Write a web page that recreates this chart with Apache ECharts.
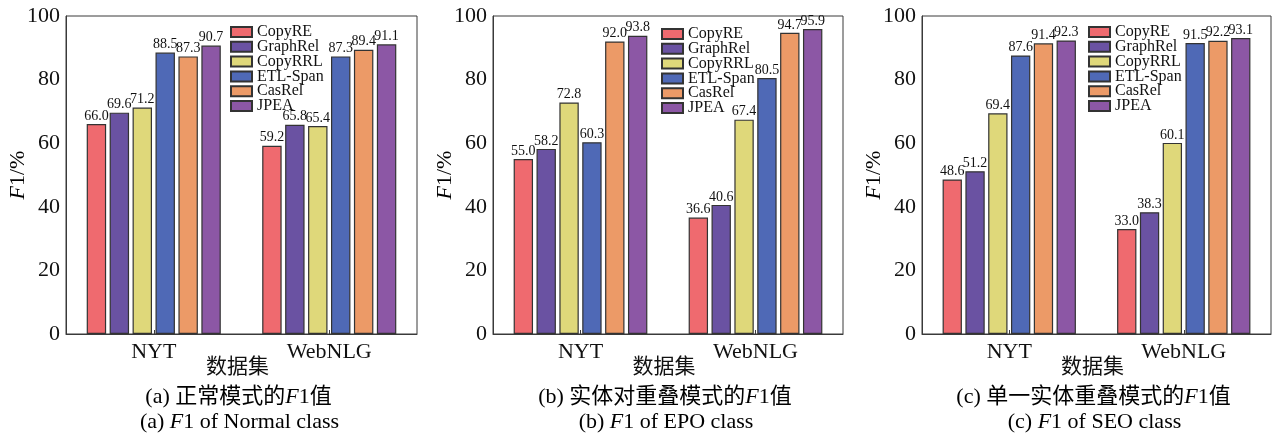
<!DOCTYPE html>
<html>
<head>
<meta charset="utf-8">
<script src="https://cdn.jsdelivr.net/npm/echarts@6/dist/echarts.min.js"></script>
<style>
  html, body { margin: 0; padding: 0; background: #fff; }
  #chart { width: 1273px; height: 437px; }
</style>
</head>
<body>
<div id="chart"></div>
<script>
// Datasets on the x axis
const datasets = ['NYT', 'WebNLG'];
// Models compared in each panel
const models = ['CopyRE', 'GraphRel', 'CopyRRL', 'ETL-Span', 'CasRel', 'JPEA'];
const colors = ['#ef6a6f', '#6a52a2', '#dfd87a', '#4f69b6', '#ec9a67', '#8c57a5'];

// F1 per model: one [NYT, WebNLG] pair for each panel (Normal, EPO, SEO)
const copyRE   = [[66.0, 59.2], [55.0, 36.6], [48.6, 33.0]];
const graphRel = [[69.6, 65.8], [58.2, 40.6], [51.2, 38.3]];
const copyRRL  = [[71.2, 65.4], [72.8, 67.4], [69.4, 60.1]];
const etlSpan  = [[88.5, 87.3], [60.3, 80.5], [87.6, 91.5]];
const casRel   = [[87.3, 89.4], [92.0, 94.7], [91.4, 92.2]];
const jpea     = [[90.7, 91.1], [93.8, 95.9], [92.3, 93.1]];
const modelValues = [copyRE, graphRel, copyRRL, etlSpan, casRel, jpea];

// Y axis ticks
const yTicks = [0, 20, 40, 60, 80, 100];

// Panel captions
const captionsZh = ['正常模式的', '实体对重叠模式的', '单一实体重叠模式的'];
const captionsEn = ['Normal', 'EPO', 'SEO'];
const panelTags = ['(a)', '(b)', '(c)'];

const FONT = '"Liberation Serif", "Times New Roman", "Noto Sans CJK SC", serif';
const INK = '#111';

// Plot areas of the three panels
const grids = [
  { left: 66,  top: 16, width: 351, height: 318 },
  { left: 493, top: 16, width: 350, height: 318 },
  { left: 922, top: 16, width: 349, height: 318 }
];
const legendPos = [
  { left: 230, top: 24 },
  { left: 661, top: 26 },
  { left: 1088, top: 24 }
];

const option = {
  animation: false,
  backgroundColor: '#fff',
  grid: grids.map(g => Object.assign({
    show: true, borderColor: '#3a3a3a', borderWidth: 1, backgroundColor: 'transparent'
  }, g)),
  legend: legendPos.map(p => ({
    orient: 'vertical',
    left: p.left,
    top: p.top,
    padding: 0,
    itemWidth: 21,
    itemHeight: 10,
    itemGap: -1.2,
    itemTextGap: 2,
    icon: 'rect',
    data: models,
    textStyle: { fontFamily: FONT, fontSize: 16, color: INK, lineHeight: 14 }
  })),
  xAxis: grids.map((g, i) => ({
    type: 'category',
    gridIndex: i,
    data: datasets,
    axisLine: { lineStyle: { color: '#3a3a3a', width: 1 } },
    axisTick: { show: true, inside: true, alignWithLabel: true, length: 4, lineStyle: { color: '#3a3a3a' } },
    axisLabel: { fontFamily: FONT, fontSize: 22, color: INK, margin: 7 }
  })),
  yAxis: grids.map((g, i) => ({
    type: 'value',
    gridIndex: i,
    min: yTicks[0],
    max: yTicks[yTicks.length - 1],
    interval: yTicks[1] - yTicks[0],
    splitLine: { show: false },
    axisLine: { show: true, lineStyle: { color: '#3a3a3a', width: 1 } },
    axisTick: { show: false },
    axisLabel: { fontFamily: FONT, fontSize: 22, color: INK, margin: 6 }
  })),
  series: [],
  graphic: []
};

for (let p = 0; p < 3; p++) {
  models.forEach((m, k) => {
    option.series.push({
      type: 'bar',
      name: m,
      xAxisIndex: p,
      yAxisIndex: p,
      data: modelValues[k][p],
      barGap: '18%',
      barCategoryGap: '23.6%',
      itemStyle: { color: colors[k], borderColor: '#333', borderWidth: 1.2 },
      label: {
        show: true,
        position: 'top',
        distance: 1,
        fontFamily: FONT,
        fontSize: 14,
        color: INK,
        formatter: d => d.value.toFixed(1)
      }
    });
  });

  const g = grids[p];
  const cx = g.left + g.width / 2;
  const rich = {
    n: { fontFamily: FONT, fontSize: 22, color: INK },
    i: { fontFamily: FONT, fontSize: 22, color: INK, fontStyle: 'italic' }
  };
  // y axis name
  option.graphic.push({
    type: 'text',
    x: g.left - 48,
    y: g.top + g.height / 2,
    rotation: Math.PI / 2,
    style: {
      text: '{i|F}{n|1/%}',
      rich: rich,
      align: 'center',
      verticalAlign: 'middle'
    }
  });
  // x axis name
  option.graphic.push({
    type: 'text',
    x: cx - 4,
    y: 367,
    style: {
      text: '数据集',
      fontFamily: FONT, fontSize: 21, fill: INK,
      align: 'center', verticalAlign: 'middle'
    }
  });
  // caption, Chinese line
  option.graphic.push({
    type: 'text',
    x: cx - 3,
    y: 397,
    style: {
      text: '{n|' + panelTags[p] + ' ' + captionsZh[p] + '}{i|F}{n|1值}',
      rich: rich,
      align: 'center',
      verticalAlign: 'middle'
    }
  });
  // caption, English line
  option.graphic.push({
    type: 'text',
    x: cx - 2,
    y: 422,
    style: {
      text: '{n|' + panelTags[p] + ' }{i|F}{n|1 of ' + captionsEn[p] + ' class}',
      rich: rich,
      align: 'center',
      verticalAlign: 'middle'
    }
  });
}

const chart = echarts.init(document.getElementById('chart'), null, { renderer: 'canvas' });
chart.setOption(option);
</script>
</body>
</html>
